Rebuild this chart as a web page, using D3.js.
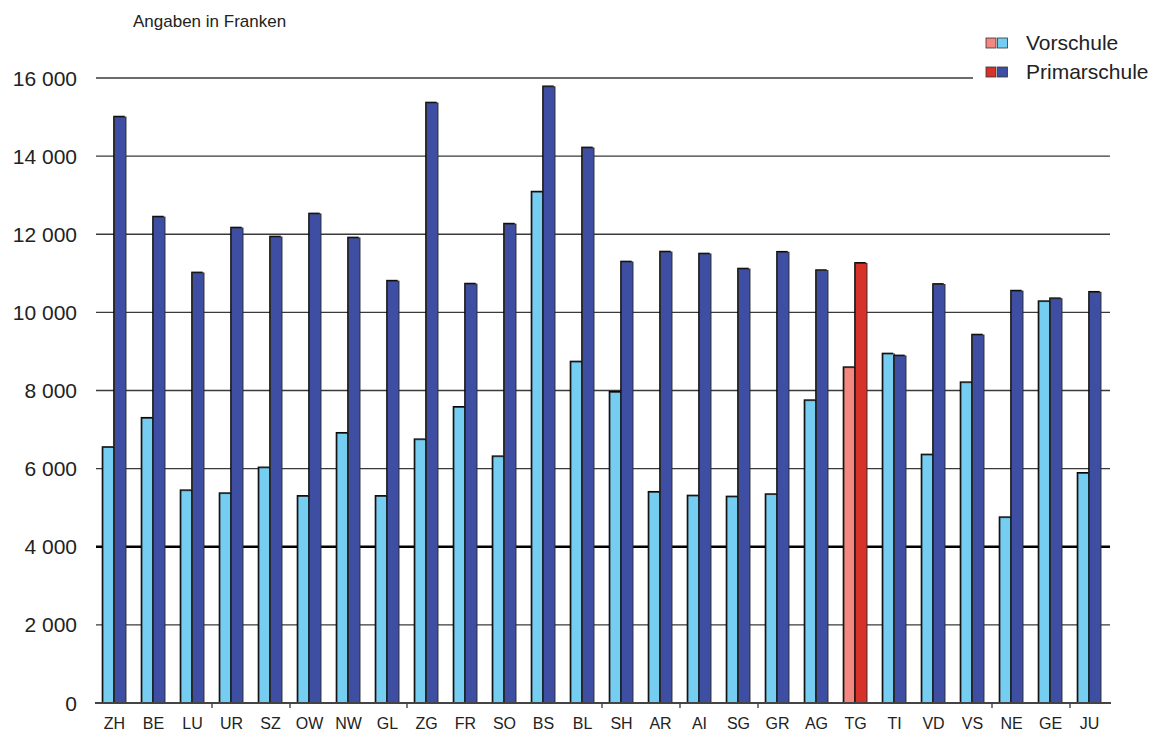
<!DOCTYPE html>
<html>
<head>
<meta charset="utf-8">
<script src="https://cdn.jsdelivr.net/npm/d3@7"></script>
<style>
  html, body { margin: 0; padding: 0; background: #fff; }
  svg { display: block; font-family: Arial, "Liberation Sans", sans-serif; }
</style>
</head>
<body>
<svg id="chart" width="1151" height="731"></svg>
<script>
// Ausgaben pro Schüler nach Kanton (Franken)
const cantons = ["ZH","BE","LU","UR","SZ","OW","NW","GL","ZG","FR","SO","BS","BL",
                 "SH","AR","AI","SG","GR","AG","TG","TI","VD","VS","NE","GE","JU"];
const vorschule = [6540, 7290, 5435, 5360, 6020, 5290, 6905, 5290, 6740, 7570, 6305, 13080, 8730,
                   7955, 5395, 5300, 5275, 5335, 7740, 8585, 8935, 6350, 8200, 4745, 10275, 5880];
const primarschule = [15000, 12440, 11010, 12160, 11930, 12520, 11905, 10800, 15360, 10725, 12260, 15775, 14210,
                      11290, 11545, 11495, 11110, 11540, 11070, 11255, 8885, 10715, 9420, 10545, 10350, 10515];
const yTicks = [0, 2000, 4000, 6000, 8000, 10000, 12000, 14000, 16000];
const tickBefore = ["UR","OW","ZG","SH","AI","GR","NE","JU"];
const highlight = "TG";
const seriesNames = ["Vorschule", "Primarschule"];

const colors = {
  Vorschule:    { normal: "#75cdf2", hi: "#f4877f" },
  Primarschule: { normal: "#3e4fa3", hi: "#d7322a" }
};

const svg = d3.select("#chart");
const x0 = 95, x1 = 1109, yBottom = 703, yTop = 78;
const padIn = 0.41;

const x = d3.scaleBand().domain(cantons).range([x0, x1])
  .paddingInner(padIn).paddingOuter(padIn / 2);
const xs = d3.scaleBand().domain(seriesNames).range([0, x.bandwidth()]);
const y = d3.scaleLinear().domain([0, 16000]).range([yBottom, yTop]);

// gridlines
const grid = svg.append("g");
grid.selectAll("line").data(yTicks.filter(v => v > 0)).join("line")
  .attr("x1", x0 + 1)
  .attr("x2", v => v === 16000 ? 973 : x1 + 1)
  .attr("y1", v => y(v)).attr("y2", v => y(v))
  .attr("stroke", v => v === 4000 ? "#000" : "#3a3a3a")
  .attr("stroke-width", v => v === 4000 ? 2.5 : 1.4);

// y labels
svg.append("g").selectAll("text").data(yTicks).join("text")
  .attr("x", 77).attr("y", v => y(v) + 7.5)
  .attr("text-anchor", "end")
  .attr("font-size", 21).attr("fill", "#222")
  .text(v => v === 0 ? "0" : d3.format(",")(v).replace(",", " "));

// bars
const rows = cantons.map((c, i) => ({ c, vals: [
  { key: "Vorschule", v: vorschule[i] },
  { key: "Primarschule", v: primarschule[i] }
]}));

const groups = svg.append("g").selectAll("g").data(rows).join("g")
  .attr("transform", d => `translate(${x(d.c)},0)`);

groups.each(function(d) {
  const g = d3.select(this);
  d.vals.forEach(b => {
    const bx = xs(b.key), bw = xs.bandwidth();
    const top = y(b.v), h = yBottom - top;
    g.append("rect")
      .attr("x", bx - 1.3).attr("y", top - 1.3)
      .attr("width", bw).attr("height", h + 1.3)
      .attr("fill", "#000");
    g.append("rect")
      .attr("x", bx).attr("y", top)
      .attr("width", bw).attr("height", h)
      .attr("fill", d.c === highlight ? colors[b.key].hi : colors[b.key].normal)
      .attr("stroke", "#2a2a2a").attr("stroke-width", 0.9);
  });
});

// x axis
svg.append("line")
  .attr("x1", x0).attr("x2", x1 + 2)
  .attr("y1", yBottom).attr("y2", yBottom)
  .attr("stroke", "#444").attr("stroke-width", 1.8);

const step = x.step();
svg.append("g").selectAll("line").data(tickBefore).join("line")
  .attr("x1", c => x(c) - step * padIn / 2)
  .attr("x2", c => x(c) - step * padIn / 2)
  .attr("y1", yBottom).attr("y2", yBottom + 5)
  .attr("stroke", "#444").attr("stroke-width", 1.4);

svg.append("g").selectAll("text").data(cantons).join("text")
  .attr("x", c => x(c) + x.bandwidth() / 2)
  .attr("y", 729)
  .attr("text-anchor", "middle")
  .attr("font-size", 16).attr("fill", "#222")
  .text(c => c);

// unit note
svg.append("text")
  .attr("x", 133).attr("y", 27)
  .attr("font-size", 17).attr("fill", "#222")
  .text("Angaben in Franken");

// legend
const legend = svg.append("g");
seriesNames.forEach((name, i) => {
  const ly = 38 + i * 29;
  legend.append("rect").attr("x", 986).attr("y", ly).attr("width", 10).attr("height", 10)
    .attr("fill", colors[name].hi).attr("stroke", "#333").attr("stroke-width", 0.8);
  legend.append("rect").attr("x", 997.5).attr("y", ly).attr("width", 10).attr("height", 10)
    .attr("fill", colors[name].normal).attr("stroke", "#333").attr("stroke-width", 0.8);
  legend.append("text").attr("x", 1026).attr("y", ly + 11.5)
    .attr("font-size", 21).attr("fill", "#222").text(name);
});
</script>
</body>
</html>
